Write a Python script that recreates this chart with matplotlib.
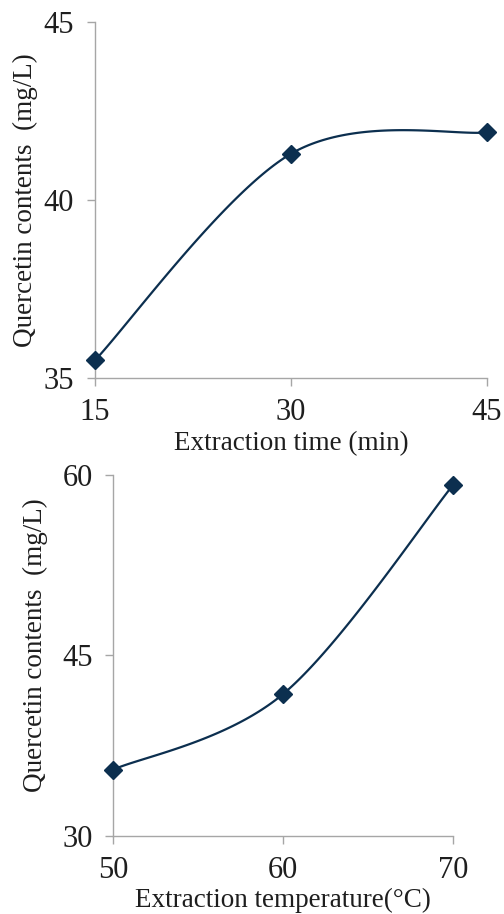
#!/usr/bin/env python

# Quercetin contents vs extraction time / temperature
# Two stacked panels with smoothed (Excel-style) lines.

import numpy as np
import matplotlib
matplotlib.use("Agg")
import matplotlib.pyplot as plt

# data
time_min = [15, 30, 45]
time_quercetin = [35.5, 41.3, 41.9]

temp_c = [50, 60, 70]
temp_quercetin = [35.5, 41.8, 59.2]

time_ticks = [15, 30, 45]
time_yticks = [35, 40, 45]
temp_ticks = [50, 60, 70]
temp_yticks = [30, 45, 60]

line_col = "#0c2f4f"
spine_col = "#a6a6a6"
text_col = "#1e1e1e"

plt.rcParams["font.family"] = ["Liberation Serif", "DejaVu Serif"]
plt.rcParams["font.size"] = 19.5


def smooth_line(ax, xs, ys, n=60):
    # Catmull-Rom bezier done in pixel space, like a spreadsheet "smoothed line"
    pts = ax.transData.transform(np.column_stack([xs, ys]))
    ext = np.vstack([pts[:1], pts, pts[-1:]])
    t = np.linspace(0, 1, n)[:, None]
    out = []
    for i in range(len(pts) - 1):
        p0, p1 = ext[i + 1], ext[i + 2]
        c1 = p0 + (ext[i + 2] - ext[i]) / 6.0
        c2 = p1 - (ext[i + 3] - ext[i + 1]) / 6.0
        seg = ((1 - t) ** 3) * p0 + 3 * ((1 - t) ** 2) * t * c1 \
            + 3 * (1 - t) * t ** 2 * c2 + t ** 3 * p1
        out.append(seg)
    curve = ax.transData.inverted().transform(np.vstack(out))
    ax.plot(curve[:, 0], curve[:, 1], color=line_col, lw=1.6, zorder=3,
            clip_on=False)
    ax.plot(xs, ys, ls="none", marker="D", ms=9.5, color=line_col, zorder=4,
            clip_on=False)


def style(ax, xt, yt, xlabel, xl_y, yl_x, yl_y):
    ax.set_xticks(xt)
    ax.set_yticks(yt)
    for s in ("top", "right"):
        ax.spines[s].set_visible(False)
    for s in ("left", "bottom"):
        ax.spines[s].set_color(spine_col)
        ax.spines[s].set_linewidth(1.0)
    ax.tick_params(axis="both", direction="out", length=6, width=1.0,
                   color=spine_col, labelcolor=text_col, labelsize=22)
    ax.tick_params(axis="x", pad=8.5)
    ax.tick_params(axis="y", pad=9)
    ax.set_xlabel(xlabel, color=text_col)
    ax.set_ylabel("Quercetin contents  (mg/L)", color=text_col)
    ax.xaxis.set_label_coords(0.5, xl_y)
    ax.yaxis.set_label_coords(yl_x, yl_y)


fig = plt.figure(figsize=(5.04, 9.14), dpi=100, facecolor="white")

ax1 = fig.add_axes([0.1885, 0.5864, 0.7778, 0.3895])
ax1.set_xlim(15, 45)
ax1.set_ylim(35, 45)
style(ax1, time_ticks, time_yticks, "Extraction time (min)",
      -0.148, -0.145, 0.5)
smooth_line(ax1, time_min, time_quercetin)

ax2 = fig.add_axes([0.2249, 0.0857, 0.6746, 0.3946])
ax2.set_xlim(50, 70)
ax2.set_ylim(30, 60)
style(ax2, temp_ticks, temp_yticks, "Extraction temperature(°C)",
      -0.145, -0.192, 0.529)
smooth_line(ax2, temp_c, temp_quercetin)

fig.savefig("out.png", dpi=100, facecolor="white")
